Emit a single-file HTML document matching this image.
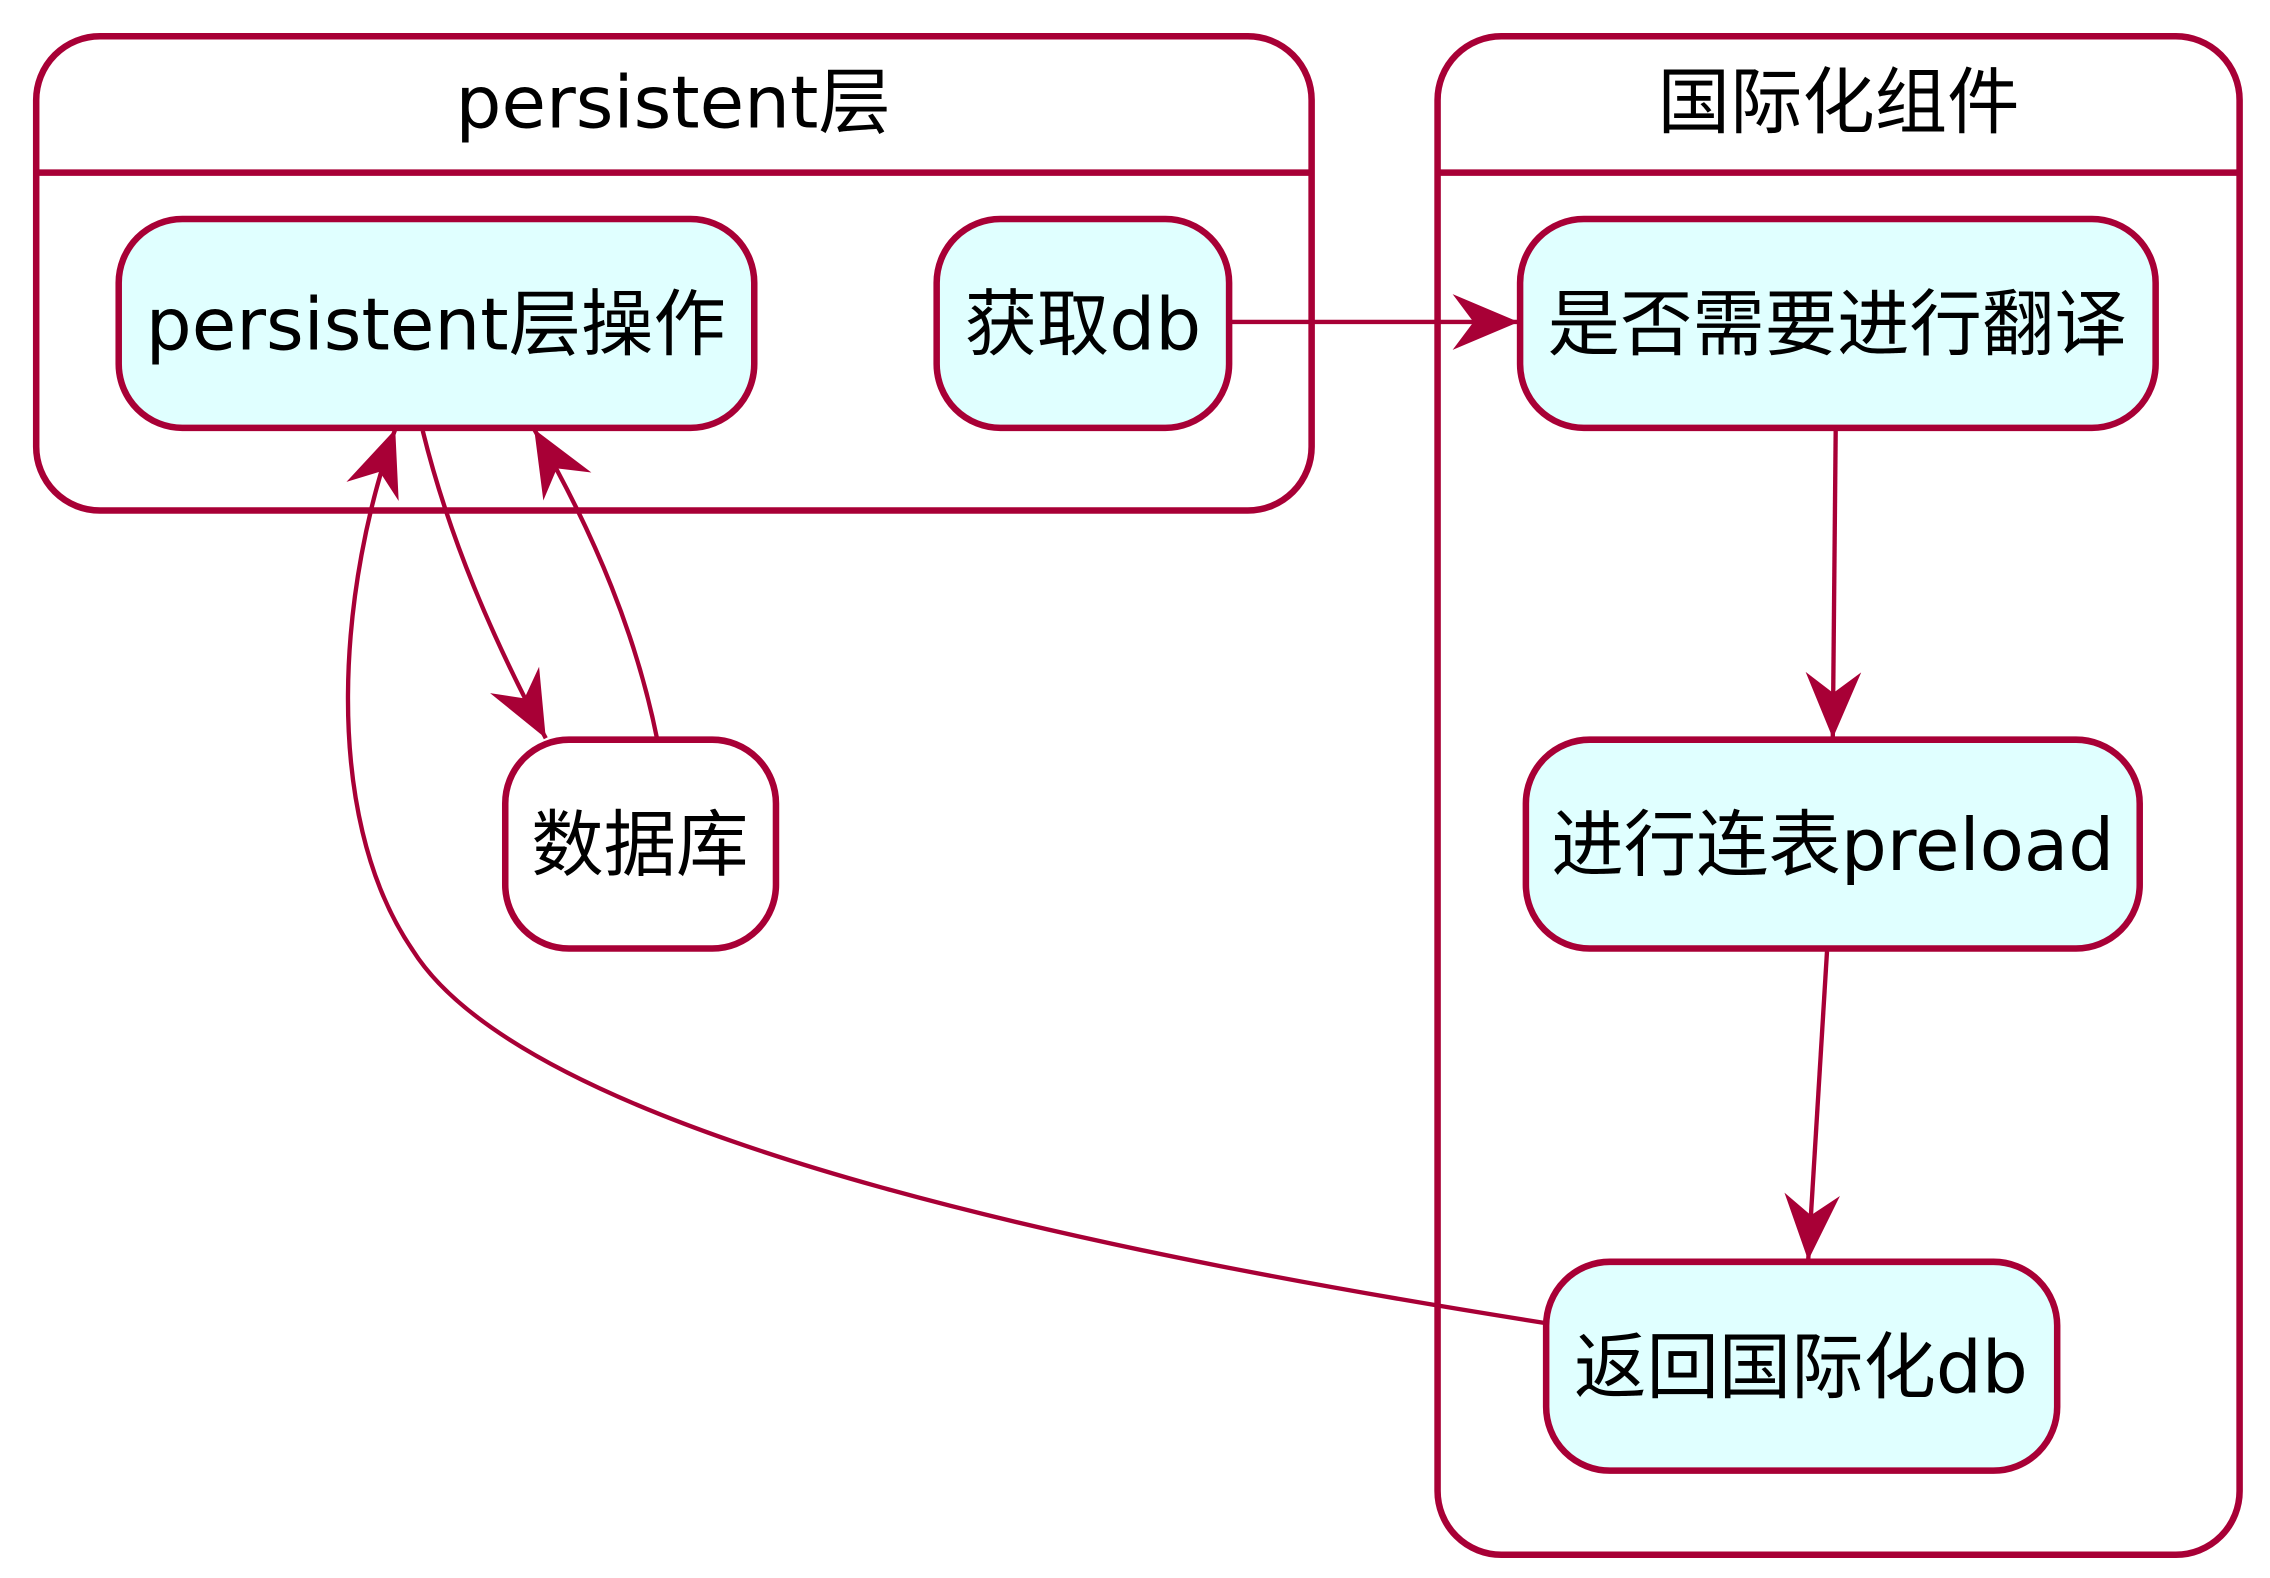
<!DOCTYPE html>
<html><head><meta charset="utf-8"><style>html,body{margin:0;padding:0;background:#fff}svg{display:block}</style></head>
<body>
<svg width="2270" height="1578" viewBox="0 0 1568 1088" preserveAspectRatio="none" xmlns="http://www.w3.org/2000/svg" font-family="'DejaVu Sans','Liberation Sans','Noto Sans CJK SC',sans-serif">
<defs>
<marker id="a" markerUnits="userSpaceOnUse" markerWidth="60" markerHeight="60" viewBox="-45 -25 50 50" refX="0" refY="0" orient="auto">
<path d="M0,0 L-38,-16 L-26,0 L-38,16 Z" fill="#A80036"/>
</marker>
</defs>
<g fill="none" stroke="#A80036" stroke-width="4.5">
<rect x="25" y="25" width="881" height="327" rx="44"/>
<line x1="25" y1="119" x2="906" y2="119"/>
<rect x="993" y="25" width="554" height="1047" rx="44"/>
<line x1="993" y1="119" x2="1547" y2="119"/>
<rect x="82" y="151" width="439" height="144" rx="44" fill="#E0FFFF"/>
<rect x="647" y="151" width="202" height="144" rx="44" fill="#E0FFFF"/>
<rect x="1050" y="151" width="439" height="144" rx="44" fill="#E0FFFF"/>
<rect x="1054" y="510" width="424" height="144" rx="44" fill="#E0FFFF"/>
<rect x="1068" y="870" width="353" height="144" rx="44" fill="#E0FFFF"/>
<rect x="349" y="510" width="187" height="144" rx="44" fill="#fff"/>
</g>
<g fill="none" stroke="#A80036" stroke-width="3">
<path d="M851,222 L1049,222" marker-end="url(#a)"/>
<path d="M1268,297 L1266,509" marker-end="url(#a)"/>
<path d="M1262,656 L1249,869" marker-end="url(#a)"/>
<path d="M292,297 C310,370 340,440 377,509" marker-end="url(#a)"/>
<path d="M454,510 C440,440 412,370 369,296" marker-end="url(#a)"/>
<path d="M1066,912 C800,870 370,790 285,655 C220,560 235,400 273,296" marker-end="url(#a)"/>
</g>
<g font-size="50" fill="#000" text-anchor="middle">
<text x="465" y="88">persistent层</text>
<text x="1270" y="88">国际化组件</text>
<text x="301" y="241">persistent层操作</text>
<text x="748" y="241">获取db</text>
<text x="1269" y="241">是否需要进行翻译</text>
<text x="1266" y="600">进行连表preload</text>
<text x="1244" y="960">返回国际化db</text>
<text x="442" y="600">数据库</text>
</g>
</svg>
</body></html>
